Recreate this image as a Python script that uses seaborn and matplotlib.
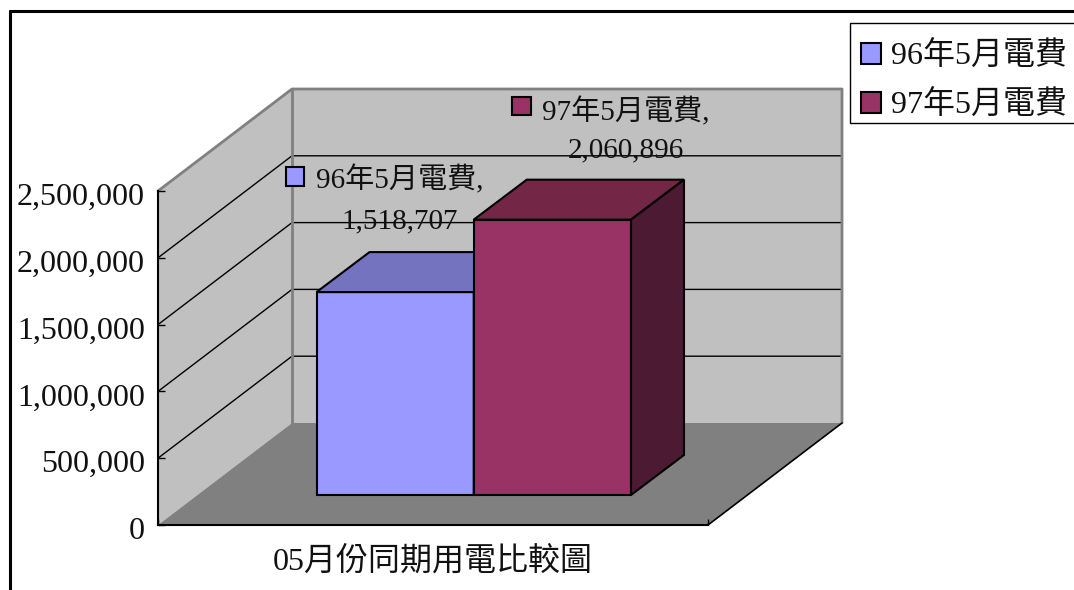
"""
Grafico 3D (estilo Excel) de comparacao da conta de luz de maio.
"""
import pandas as pd
import seaborn as sns
import matplotlib.pyplot as plt
from matplotlib.lines import Line2D
from matplotlib.patches import Rectangle
from matplotlib.transforms import ScaledTranslation

# Dados
categories = ["05月份同期用電比較圖"]
series_names = ["96年5月電費", "97年5月電費"]
series_values = [1518707, 2060896]
y_ticks = [0, 500000, 1000000, 1500000, 2000000, 2500000]

# Cores
front_colors = ["#9999FF", "#993366"]
top_colors = ["#7373BF", "#732645"]
side_colors = ["#5C5C99", "#4C1A33"]
WALL = "#C0C0C0"
FLOOR = "#808080"

W, H = 1074, 590
FONT = ["Liberation Serif", "Noto Sans CJK TC", "DejaVu Sans"]
FS = 23
FS_LABEL = 21


def rect_px(x0, y0, x1, y1):
    # caixa em pixels da imagem (y para baixo) -> fracao da figura
    return [x0 / W, 1 - y1 / H, (x1 - x0) / W, (y1 - y0) / H]


sns.set_theme(style="white")
plt.rcParams["font.family"] = FONT
plt.rcParams["font.size"] = FS

fig = plt.figure(figsize=(W / 100, H / 100), dpi=100, facecolor="white")

# Plano frontal: paredes, chao, eixos
ax = fig.add_axes(rect_px(158, 191, 708, 525), zorder=0)
ax.set_xlim(0, 1)
ax.set_ylim(0, y_ticks[-1])
ax.patch.set_visible(False)

DX = 134 / 550
DY = 102 / 334 * y_ticks[-1]
TOP = y_ticks[-1]

# parede lateral, parede do fundo, chao
ax.fill([0, DX, DX, 0], [0, DY, TOP + DY, TOP], facecolor=WALL, edgecolor="none", clip_on=False, zorder=1)
ax.fill([DX, 1 + DX, 1 + DX, DX], [DY, DY, TOP + DY, TOP + DY], facecolor=WALL, edgecolor="none", clip_on=False, zorder=1)
ax.fill([0, 1, 1 + DX, DX], [0, 0, DY, DY], facecolor=FLOOR, edgecolor="none", clip_on=False, zorder=1.5)

# linhas de grade
for v in y_ticks[1:-1]:
    ax.plot([0, DX, 1 + DX], [v, v + DY, v + DY], color="black", lw=1, clip_on=False, zorder=1.2)

# bordas cinza das paredes
ax.plot([0, DX, 1 + DX, 1 + DX], [TOP, TOP + DY, TOP + DY, DY], color=FLOOR, lw=2, clip_on=False, zorder=1.3)
ax.plot([DX, DX], [DY, TOP + DY], color=FLOOR, lw=2, clip_on=False, zorder=1.3)
ax.plot([1, 1 + DX], [0, DY], color="black", lw=1.2, clip_on=False, zorder=1.6)

sns.despine(ax=ax, top=True, right=True)
for s in ["left", "bottom"]:
    ax.spines[s].set_color("black")
    ax.spines[s].set_linewidth(1.5)
    ax.spines[s].set_zorder(2)

ax.set_yticks(y_ticks)
ax.set_yticklabels([f"{v:,}" for v in y_ticks])
ax.tick_params(axis="y", direction="in", length=5, width=1, color="black", left=True,
               pad=9.5, labelsize=FS, labelcolor="#111111")
down = ScaledTranslation(0, -3 / 100, fig.dpi_scale_trans)
for lab in ax.get_yticklabels():
    lab.set_transform(lab.get_transform() + down)
ax.set_xticks([0.5])
ax.set_xticklabels(categories)
ax.tick_params(axis="x", length=0, pad=15, labelsize=FS, labelcolor="#111111")
ax.set_xticks([0, 1], minor=True)
ax.tick_params(axis="x", which="minor", direction="in", length=4, width=1, color="black", bottom=True)
ax.set_axisbelow(False)

# Barras, deslocadas para dentro do chao
df = pd.DataFrame({"periodo": categories * len(series_names), "serie": series_names, "valor": series_values})
shift_y = 30
shift_x = shift_y * 134 / 102
ax_bars = fig.add_axes(rect_px(158 + shift_x, 191 - shift_y, 708 + shift_x, 525 - shift_y), zorder=1)
ax_bars.patch.set_visible(False)
sns.barplot(data=df, x="periodo", y="valor", hue="serie", palette=front_colors, saturation=1,
            width=1, gap=0, edgecolor="black", linewidth=1.5, ax=ax_bars)
bar_unit = 631 - 316.5
center = (631 + 316.5) / 2 - (158 + shift_x)
ax_bars.set_xlim(-center / bar_unit, (550 - center) / bar_unit)
ax_bars.set_ylim(0, y_ticks[-1])
handles, labels = ax_bars.get_legend_handles_labels()
ax_bars.get_legend().remove()
ax_bars.axis("off")

bar_dx = 53 / bar_unit
bar_dy = 40 / 334 * y_ticks[-1]
for i, bar in enumerate(ax_bars.patches[:len(series_values)]):
    x0, w, h = bar.get_x(), bar.get_width(), bar.get_height()
    bar.set_zorder(2 + i)
    bar.set_clip_on(False)
    ax_bars.fill([x0, x0 + w, x0 + w + bar_dx, x0 + bar_dx], [h, h, h + bar_dy, h + bar_dy],
                 facecolor=top_colors[i], edgecolor="black", lw=1.5, clip_on=False, zorder=2 + i)
    ax_bars.fill([x0 + w, x0 + w + bar_dx, x0 + w + bar_dx, x0 + w], [0, bar_dy, h + bar_dy, h],
                 facecolor=side_colors[i], edgecolor="black", lw=1.5, clip_on=False, zorder=2 + i)

# Rotulos de dados (offset em pixels a partir do topo da barra)
label_offsets = [(4.5, 112, 71), (73, 108, 69)]
key_boxes = [(286, 167, 304, 186), (512, 97, 531, 115)]
for i, bar in enumerate(ax_bars.patches[:len(series_values)]):
    cx = bar.get_x() + bar.get_width() / 2
    off_x, off_name, off_val = label_offsets[i]
    for txt, off_y in [(series_names[i] + ",", off_name), (f"{series_values[i]:,}", off_val)]:
        ax_bars.annotate(txt, xy=(cx, bar.get_height()), xytext=(off_x, off_y), textcoords="offset pixels",
                         ha="center", va="center", fontsize=FS_LABEL, color="#111111", annotation_clip=False, zorder=6)
    x0, y0, x1, y1 = key_boxes[i]
    l, b, kw, kh = rect_px(x0, y0, x1, y1)
    fig.add_artist(Rectangle((l, b), kw, kh, transform=fig.transFigure, facecolor=front_colors[i],
                             edgecolor="black", lw=1.5, zorder=5))

# Legenda: caixa separada porque o conteudo fica mais baixo que o centro
l, b, bw, bh = rect_px(850, 23, 1080, 123)
fig.add_artist(Rectangle((l, b), bw, bh, transform=fig.transFigure, facecolor="white", edgecolor="black", lw=1, zorder=4))
leg = fig.legend(handles, labels, loc="lower left", bbox_to_anchor=(l, b - 8 / H), bbox_transform=fig.transFigure,
                 borderaxespad=0, borderpad=0.33, handlelength=0.63, handleheight=0.63, handletextpad=0.31,
                 labelspacing=0.57, frameon=False, fontsize=FS)
leg.set_zorder(6)
for t in leg.get_texts():
    t.set_color("#111111")
for hd in leg.legend_handles:
    hd.set_edgecolor("black")
    hd.set_linewidth(1.5)

# Moldura do grafico: so esquerda e topo aparecem
fig.add_artist(Line2D([10 / W, 10 / W], [0, 1 - 11 / H], color="black", lw=2.2, transform=fig.transFigure))
fig.add_artist(Line2D([10 / W, 1], [1 - 11 / H, 1 - 11 / H], color="black", lw=2.2, transform=fig.transFigure))

fig.savefig("out.png", dpi=100)
